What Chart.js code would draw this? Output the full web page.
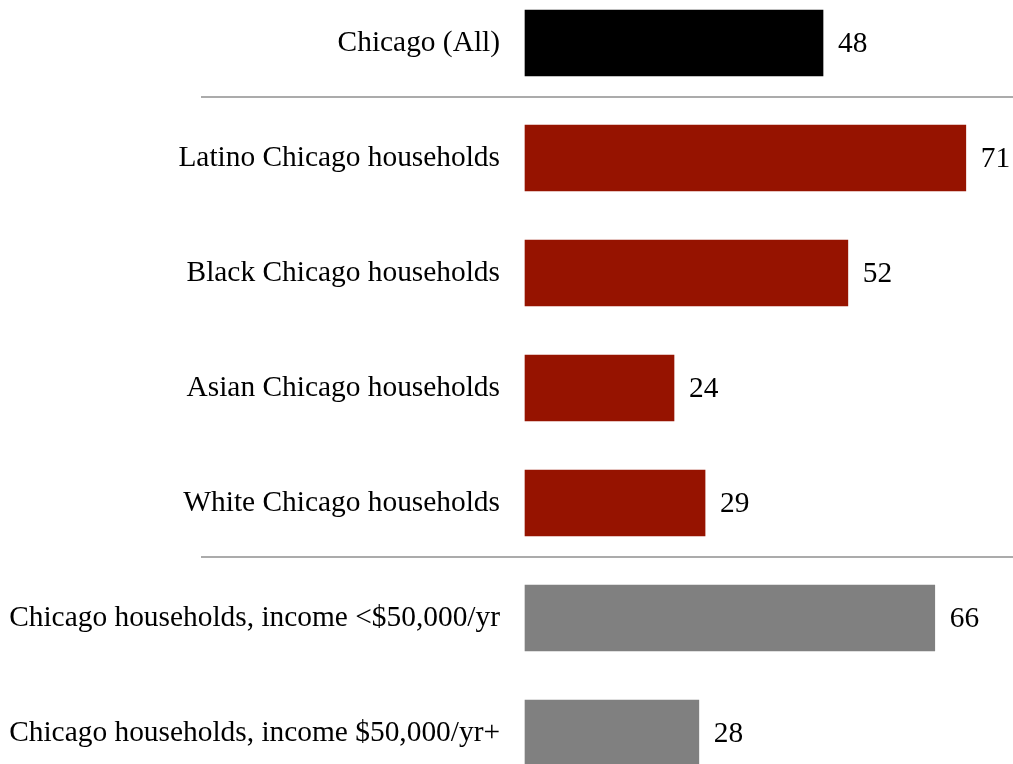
<!DOCTYPE html>
<html>
<head>
<meta charset="utf-8">
<script src="https://cdn.jsdelivr.net/npm/chart.js@4"></script>
<style>
    html, body { margin: 0; padding: 0; background: #fff; }
    #wrap { width: 1013px; height: 764px; position: relative; }
</style>
</head>
<body>
<div id="wrap"><canvas id="chart"></canvas></div>
<script>
// --- Data ---
const categories = [
    'Chicago (All)',
    'Latino Chicago households',
    'Black Chicago households',
    'Asian Chicago households',
    'White Chicago households',
    'Chicago households, income <$50,000/yr',
    'Chicago households, income $50,000/yr+'
];
const values = [48, 71, 52, 24, 29, 66, 28];
// separators drawn after these category indexes
const groupBreaks = [0, 4];

// --- Styles ---
const barColors = ['#000000', '#961300', '#961300', '#961300', '#961300', '#808080', '#808080'];
const FONT_FAMILY = "'Liberation Serif', 'Times New Roman', serif";
const FONT_SIZE = 29.4;

// Draws the value at the end of each bar
const valueLabels = {
    id: 'valueLabels',
    afterDatasetsDraw(chart) {
        const { ctx } = chart;
        const meta = chart.getDatasetMeta(0);
        ctx.save();
        ctx.font = `${FONT_SIZE}px ${FONT_FAMILY}`;
        ctx.fillStyle = '#000';
        ctx.textAlign = 'left';
        ctx.textBaseline = 'middle';
        meta.data.forEach((bar, i) => {
            ctx.fillText(String(values[i]), bar.x + 15, bar.y + 1);
        });
        ctx.restore();
    }
};

// Grey lines between the groups
const groupSeparators = {
    id: 'groupSeparators',
    afterDraw(chart) {
        const { ctx, scales: { y } } = chart;
        ctx.save();
        ctx.strokeStyle = '#ababab';
        ctx.lineWidth = 2;
        groupBreaks.forEach(idx => {
            const py = Math.round(y.getPixelForValue(idx + 0.5)) - 4;
            ctx.beginPath();
            ctx.moveTo(201, py);
            ctx.lineTo(chart.width, py);
            ctx.stroke();
        });
        ctx.restore();
    }
};

new Chart(document.getElementById('chart'), {
    type: 'bar',
    data: {
        labels: categories,
        datasets: [{
            data: values,
            backgroundColor: barColors,
            borderWidth: 0,
            barThickness: 66,
            clip: false
        }]
    },
    options: {
        indexAxis: 'y',
        responsive: true,
        maintainAspectRatio: false,
        animation: false,
        layout: { padding: { top: 43, bottom: 31, left: 0, right: 0 } },
        plugins: {
            legend: { display: false },
            tooltip: { enabled: false }
        },
        scales: {
            x: {
                display: false,
                min: 0,
                max: 78.6
            },
            y: {
                offset: false,
                grid: { display: false, drawTicks: false },
                border: { display: false },
                ticks: {
                    color: '#000',
                    padding: 25,
                    font: { family: FONT_FAMILY, size: FONT_SIZE }
                },
                afterFit(scale) {
                    scale.width = 525;
                    scale.paddingTop = 0;
                    scale.paddingBottom = 0;
                }
            }
        }
    },
    plugins: [valueLabels, groupSeparators]
});
</script>
</body>
</html>
